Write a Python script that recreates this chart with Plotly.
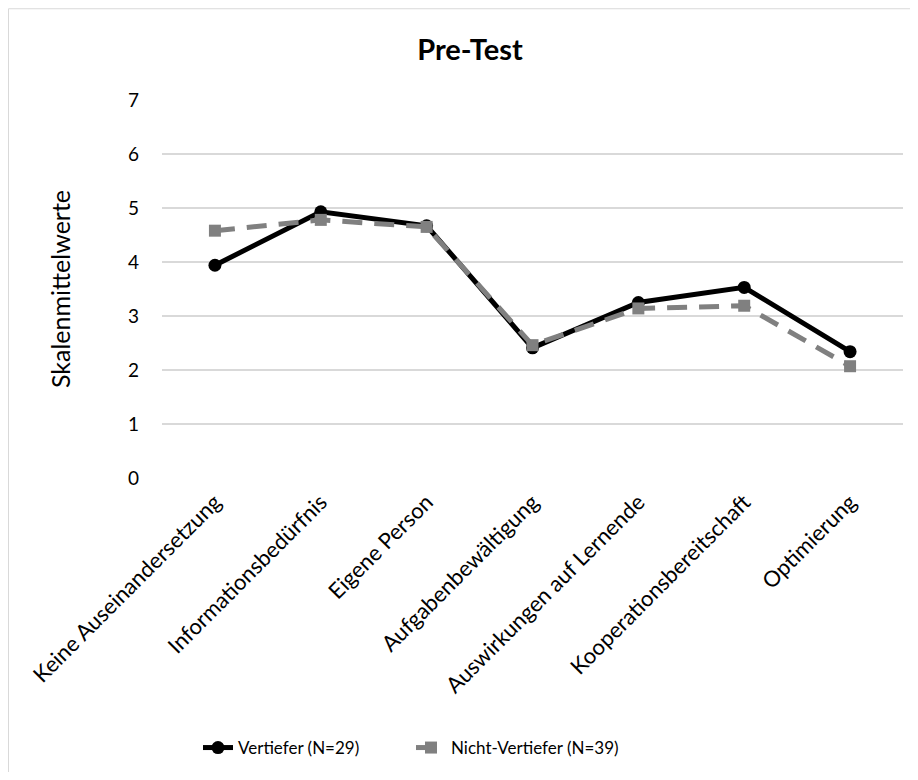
import plotly.graph_objects as go

categories = ["Keine Auseinandersetzung", "Informationsbedürfnis", "Eigene Person",
              "Aufgabenbewältigung", "Auswirkungen auf Lernende",
              "Kooperationsbereitschaft", "Optimierung"]
vertiefer = [3.94, 4.93, 4.67, 2.41, 3.25, 3.53, 2.34]
nicht_vertiefer = [4.58, 4.78, 4.65, 2.46, 3.14, 3.19, 2.07]
y_ticks = [0, 1, 2, 3, 4, 5, 6, 7]

FONT = "Lato, 'Open Sans', sans-serif"
OFF = 8  # page body margin

fig = go.Figure()
fig.add_trace(go.Scatter(
    x=categories, y=vertiefer, name="Vertiefer (N=29)", mode="lines+markers",
    line=dict(color="#000000", width=5),
    marker=dict(symbol="circle", size=13, color="#000000"),
))
fig.add_trace(go.Scatter(
    x=categories, y=nicht_vertiefer, name="Nicht-Vertiefer (N=39)", mode="lines+markers",
    line=dict(color="#808080", width=5, dash="20px,12px"),
    marker=dict(symbol="square", size=12, color="#808080"),
))

W, H = 918 - 2 * OFF, 780 - 2 * OFF
L, T = 162 - OFF, 100 - OFF
R = W - (903 - OFF)
B = H - (479 - OFF)
pw, ph = W - L - R, H - T - B

def px_x(p):
    return (p - OFF - L) / pw

def px_y(p):
    return (H - B - (p - OFF)) / ph

# chart frame: only top and left edges are visible in the reference
fig.add_shape(type="line", xref="paper", yref="paper",
              x0=px_x(8.5), x1=px_x(918), y0=px_y(8.5), y1=px_y(8.5),
              line=dict(color="#d9d9d9", width=1), layer="below")
fig.add_shape(type="line", xref="paper", yref="paper",
              x0=px_x(8.5), x1=px_x(8.5), y0=px_y(8.5), y1=px_y(780),
              line=dict(color="#d9d9d9", width=1), layer="below")

fig.update_layout(
    width=W, height=H,
    margin=dict(l=L, r=R, t=T, b=B),
    paper_bgcolor="white", plot_bgcolor="white",
    font=dict(family=FONT, size=16, color="#000000"),
    title=dict(text="<b>Pre-Test</b>", x=px_x(470), xref="paper", xanchor="center",
               y=1 - (50 - OFF) / H, yanchor="middle",
               font=dict(size=29, family=FONT)),
    showlegend=True,
    legend=dict(orientation="h", x=px_x(198), xref="paper", xanchor="left",
                y=px_y(748), yanchor="middle", font=dict(size=17),
                entrywidth=168, entrywidthmode="pixels", tracegroupgap=0),
    xaxis=dict(showgrid=False, showline=False, ticks="", tickangle=-45,
               tickfont=dict(size=22), range=[-0.5, 6.5], ticklabelstandoff=6),
    yaxis=dict(range=[0, 7], tickvals=y_ticks, showgrid=True, gridcolor="#d9d9d9",
               gridwidth=1.5, zeroline=False, showline=False, ticks="",
               tickfont=dict(size=19), ticklabelstandoff=22,
               title=dict(text="Skalenmittelwerte", font=dict(size=25), standoff=50)),
)

fig.write_html("out.html")
